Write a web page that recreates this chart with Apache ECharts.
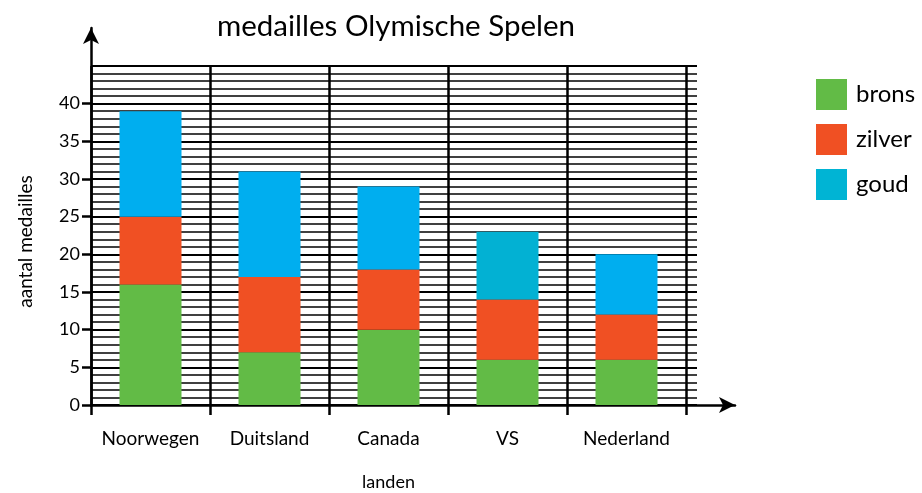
<!DOCTYPE html>
<html><head><meta charset="utf-8">
<script src="https://cdn.jsdelivr.net/npm/echarts@6/dist/echarts.min.js"></script>
<style>html,body{margin:0;padding:0;background:#fff}#c{width:922px;height:493px}</style>
</head><body><div id="c"></div>
<script>
const categories = ['Noorwegen','Duitsland','Canada','VS','Nederland'];
const brons = [16, 7, 10, 6, 6];
const zilver = [9, 10, 8, 8, 6];
const goud = [14, 14, 11, 9, 8];
const goudBarColors = ['#00aeef','#00aeef','#00aeef','#02b1d3','#00aeef'];

const FONT = 'Lato';
const chart = echarts.init(document.getElementById('c'), null, {renderer:'canvas'});
const noAxis = {show:false};
const gridBase = {containLabel:false, outerBoundsMode:'none'};
chart.setOption({
  animation:false,
  textStyle:{fontFamily:FONT},
  title:{text:'medailles Olymische Spelen', left:391, top:6, textAlign:'center',
    textStyle:{fontFamily:FONT, fontWeight:'normal', fontSize:29.5, color:'#000'}},
  legend:{orient:'vertical', left:811, top:74, itemWidth:31, itemHeight:31, itemGap:14,
    icon:'rect', textStyle:{fontFamily:FONT, fontSize:24, color:'#000', padding:[0,0,0,4]},
    data:['brons','zilver','goud']},
  grid:[
    Object.assign({left:91, right:236, top:66, bottom:88}, gridBase),
    Object.assign({left:91, right:225, top:66, bottom:88}, gridBase),
    Object.assign({left:91, right:187, top:28, bottom:88}, gridBase)
  ],
  xAxis:[
    {type:'category', gridIndex:0, data:categories,
      axisLine:{show:false},
      axisTick:{show:true, interval:0, length:10, lineStyle:{color:'#000', width:2.5}},
      axisLabel:{interval:0, fontFamily:FONT, fontSize:19, color:'#000', margin:24},
      splitLine:{show:true, interval:0, lineStyle:{color:'#000', width:2.5}},
      name:'landen', nameLocation:'middle', nameGap:68,
      nameTextStyle:{fontFamily:FONT, fontSize:18, color:'#000'}},
    {type:'value', gridIndex:1, show:false, min:0, max:1},
    {type:'value', gridIndex:2, min:0, max:1,
      axisLine:{show:true, symbol:['none','arrow'], symbolSize:[12,16], lineStyle:{color:'#000', width:2.5}},
      axisTick:noAxis, axisLabel:noAxis, splitLine:noAxis}
  ],
  yAxis:[
    {type:'value', gridIndex:0, min:0, max:45, interval:5,
      axisLine:{show:false},
      axisTick:{show:true, length:9, lineStyle:{color:'#000', width:2.5}},
      axisLabel:{fontFamily:FONT, fontSize:18, color:'#000', margin:11, showMaxLabel:false},
      splitLine:{show:false},
      name:'aantal medailles', nameLocation:'middle', nameRotate:90, nameGap:56,
      nameTextStyle:{fontFamily:FONT, fontSize:19, color:'#000', padding:[0,12,0,0]}},
    {type:'value', gridIndex:1, min:0, max:45, interval:5,
      axisLine:noAxis, axisTick:noAxis, axisLabel:noAxis,
      splitLine:{show:true, lineStyle:{color:'#000', width:2}},
      minorTick:{show:false, splitNumber:5},
      minorSplitLine:{show:true, lineStyle:{color:'#000', width:1.6}}},
    {type:'value', gridIndex:2, min:0, max:1,
      axisLine:{show:true, symbol:['none','arrow'], symbolSize:[12,16], lineStyle:{color:'#000', width:2.5}},
      axisTick:noAxis, axisLabel:noAxis, splitLine:noAxis}
  ],
  series:[
    {name:'brons', type:'bar', stack:'m', xAxisIndex:0, yAxisIndex:0, barWidth:62,
      itemStyle:{color:'#62bb46'}, data:brons},
    {name:'zilver', type:'bar', stack:'m', xAxisIndex:0, yAxisIndex:0, barWidth:62,
      itemStyle:{color:'#f05023'}, data:zilver},
    {name:'goud', type:'bar', stack:'m', xAxisIndex:0, yAxisIndex:0, barWidth:62,
      itemStyle:{color:'#00b4d4'},
      data:goud.map((v,i)=>({value:v, itemStyle:{color:goudBarColors[i]}}))}
  ]
});
</script></body></html>
